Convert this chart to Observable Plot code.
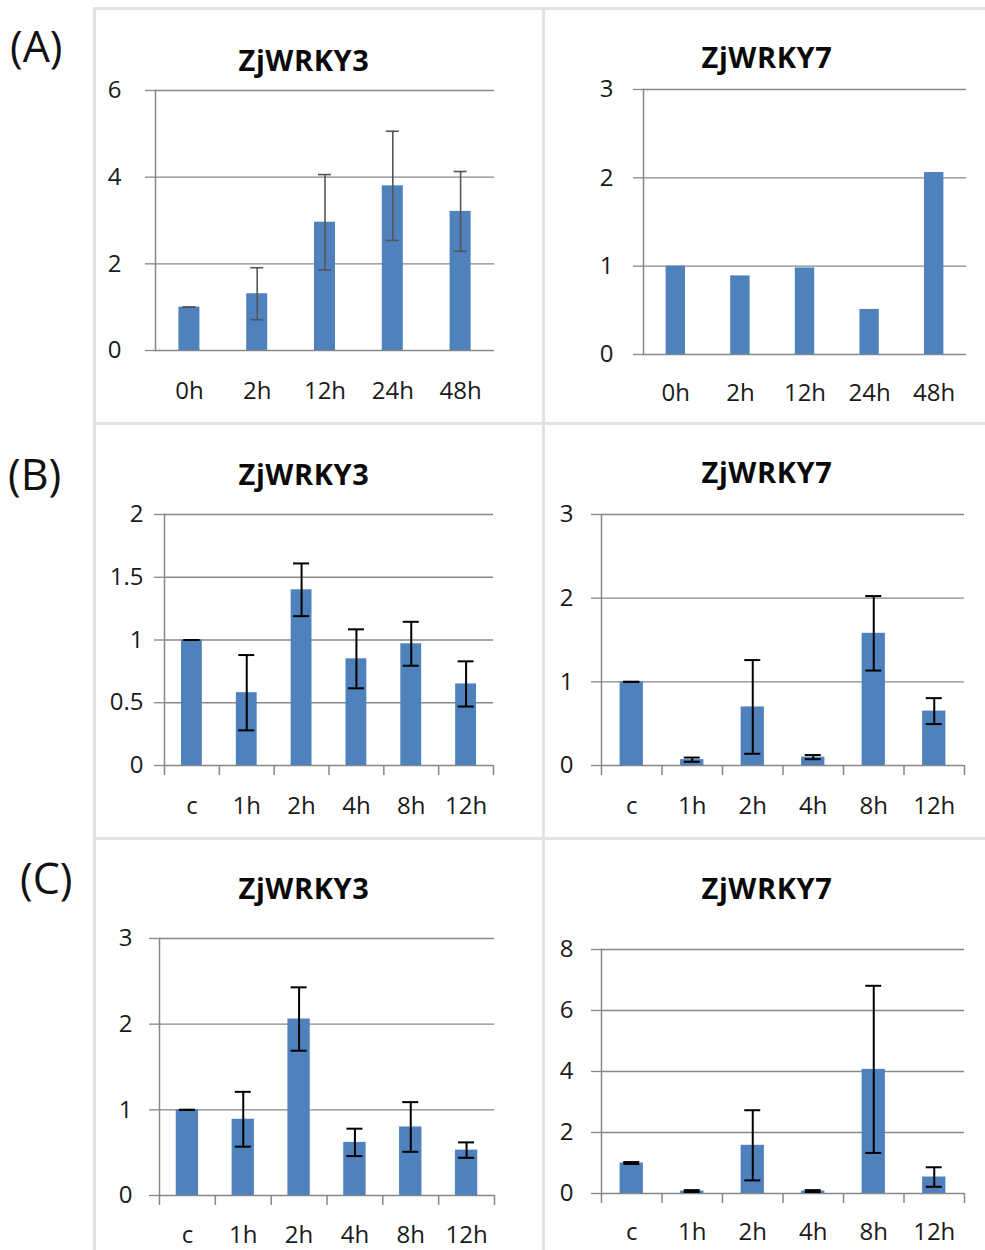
<!DOCTYPE html>
<html>
<head>
<meta charset="utf-8">
<script src="https://cdn.jsdelivr.net/npm/d3@7"></script>
<script src="https://cdn.jsdelivr.net/npm/@observablehq/plot@0.6"></script>
<style>
  html, body { margin: 0; padding: 0; background: #fff; }
  #fig { position: relative; width: 985px; height: 1250px; overflow: hidden; background: #fff; font-family: "Open Sans", sans-serif; }
  .line { position: absolute; background: #e2e2e2; }
  .plabel { position: absolute; font-family: "Open Sans", sans-serif; font-size: 43px; line-height: 50px; color: #111; }
  .title { position: absolute; width: 300px; text-align: center; font-family: "Open Sans", sans-serif; font-weight: 700; font-size: 29px; line-height: 36px; color: #0a0a0a; letter-spacing: 0.6px; }
  .panel { position: absolute; }
</style>
</head>
<body>
<div id="fig"></div>
<script>
// ---------- data ----------
const timesA = ["0h", "2h", "12h", "24h", "48h"];
const timesBC = ["c", "1h", "2h", "4h", "8h", "12h"];

const a3Mean = [1.0, 1.31, 2.96, 3.80, 3.21];
const a3Err  = [0.0, 0.60, 1.10, 1.26, 0.92];
const a7Mean = [1.0, 0.89, 0.98, 0.51, 2.06];

const b3Mean = [1.0, 0.58, 1.40, 0.85, 0.97, 0.65];
const b3Err  = [0.0, 0.30, 0.21, 0.235, 0.175, 0.18];
const b7Mean = [1.0, 0.07, 0.70, 0.10, 1.58, 0.65];
const b7Err  = [0.0, 0.025, 0.56, 0.025, 0.445, 0.155];

const c3Mean = [1.0, 0.89, 2.06, 0.62, 0.80, 0.53];
const c3Err  = [0.0, 0.32, 0.37, 0.16, 0.29, 0.09];
const c7Mean = [1.0, 0.08, 1.58, 0.08, 4.07, 0.54];
const c7Err  = [0.03, 0.03, 1.15, 0.03, 2.74, 0.32];

const ticksA3 = [0, 2, 4, 6];
const ticksA7 = [0, 1, 2, 3];
const ticksB3 = [0, 0.5, 1, 1.5, 2];
const ticksB7 = [0, 1, 2, 3];
const ticksC3 = [0, 1, 2, 3];
const ticksC7 = [0, 2, 4, 6, 8];

const panelLabels = ["(A)", "(B)", "(C)"];
const geneTitles = ["ZjWRKY3", "ZjWRKY7"];

// ---------- layout ----------
const fig = document.getElementById("fig");
const BAR = "#4F81BD";
const GRID = "#878787";
const TXT = "#1a1a1a";

function addLine(l, t, w, h) {
  const d = document.createElement("div");
  d.className = "line";
  Object.assign(d.style, {left: l + "px", top: t + "px", width: w + "px", height: h + "px"});
  fig.appendChild(d);
}
// panel frame lines
addLine(93, 7, 900, 3);
addLine(93, 7, 3, 1250);
addLine(542, 7, 3, 1250);
addLine(93, 422, 900, 3);
addLine(93, 837, 900, 3);

function addText(cls, txt, l, t) {
  const d = document.createElement("div");
  d.className = cls;
  d.textContent = txt;
  d.style.left = l + "px";
  d.style.top = t + "px";
  fig.appendChild(d);
}
addText("plabel", panelLabels[0], 10, 21);
addText("plabel", panelLabels[1], 8, 449);
addText("plabel", panelLabels[2], 20, 853);

function panel(cfg) {
  const n = cfg.cats.length;
  const rows = cfg.cats.map((k, i) => ({k, c: i + 0.5, m: cfg.mean[i], e: cfg.err ? cfg.err[i] : null}));
  const W = cfg.width, H = cfg.height;
  const marks = [
    Plot.gridY(cfg.ticks, {stroke: GRID, strokeOpacity: 1, strokeWidth: 1.3}),
    Plot.axisY(cfg.ticks, {tickSize: 10, tickPadding: cfg.yPad, stroke: GRID, strokeWidth: 1.3, fill: TXT,
      fontSize: 24, tickFormat: d => String(d), label: null}),
    Plot.frame({anchor: "left", stroke: GRID, strokeWidth: 1.5}),
    Plot.rectY(rows, {x1: d => d.c - cfg.barFrac / 2, x2: d => d.c + cfg.barFrac / 2, y: "m", fill: BAR})
  ];
  if (cfg.err) {
    marks.push(
      Plot.ruleX(rows, {x: "c", y1: d => d.m - d.e, y2: d => d.m + d.e, stroke: cfg.errColor, strokeWidth: cfg.errWidth}),
      Plot.ruleY(rows, {y: d => d.m + d.e, x1: "c", x2: "c", insetLeft: -cfg.cap, insetRight: -cfg.cap, stroke: cfg.errColor, strokeWidth: cfg.errWidth}),
      Plot.ruleY(rows, {y: d => d.m - d.e, x1: "c", x2: "c", insetLeft: -cfg.cap, insetRight: -cfg.cap, stroke: cfg.errColor, strokeWidth: cfg.errWidth})
    );
  }
  if (cfg.catTicks) {
    marks.push(Plot.axisX(d3.range(n + 1), {tickSize: 10, stroke: GRID, strokeWidth: 1.5, tickFormat: () => "", label: null}));
  }
  marks.push(Plot.axisX(rows.map(d => d.c), {tickSize: 0, tickPadding: cfg.xPad, fill: TXT, fontSize: 24,
    tickFormat: v => cfg.cats[Math.floor(v)], label: null}));

  const svg = Plot.plot({
    width: W, height: H,
    marginLeft: cfg.ml, marginRight: cfg.mr, marginTop: cfg.mt, marginBottom: cfg.mb,
    x: {domain: [0, n]},
    y: {domain: [0, cfg.ticks[cfg.ticks.length - 1]]},
    style: {fontFamily: "Open Sans, sans-serif", fontSize: "24px", background: "transparent", overflow: "visible"},
    marks
  });
  const wrap = document.createElement("div");
  wrap.className = "panel";
  wrap.style.left = cfg.left + "px";
  wrap.style.top = cfg.top + "px";
  wrap.appendChild(svg);
  fig.appendChild(wrap);
  addText("title", cfg.title, cfg.titleX - 150, cfg.titleY - 19);
}

// (A) left
panel({title: geneTitles[0], cats: timesA, mean: a3Mean, err: a3Err, ticks: ticksA3,
  left: 100, top: 75, width: 440, height: 345, ml: 55, mr: 46, mt: 15, mb: 70,
  yPad: 24, xPad: 31, barFrac: 0.31, cap: 6.5, errColor: "#555", errWidth: 1.6, catTicks: false,
  titleX: 304, titleY: 61});
// (A) right
panel({title: geneTitles[1], cats: timesA, mean: a7Mean, err: null, ticks: ticksA7,
  left: 548, top: 75, width: 437, height: 345, ml: 95, mr: 19, mt: 14, mb: 66,
  yPad: 20, xPad: 29, barFrac: 0.30, catTicks: false,
  titleX: 767, titleY: 58});
// (B) left
panel({title: geneTitles[0], cats: timesBC, mean: b3Mean, err: b3Err, ticks: ticksB3,
  left: 100, top: 490, width: 440, height: 345, ml: 64, mr: 47, mt: 24, mb: 70,
  yPad: 11, xPad: 31, barFrac: 0.38, cap: 8, errColor: "#000", errWidth: 2, catTicks: true,
  titleX: 304, titleY: 475});
// (B) right
panel({title: geneTitles[1], cats: timesBC, mean: b7Mean, err: b7Err, ticks: ticksB7,
  left: 548, top: 490, width: 437, height: 345, ml: 53, mr: 21, mt: 24, mb: 70,
  yPad: 18, xPad: 31, barFrac: 0.385, cap: 8, errColor: "#000", errWidth: 2, catTicks: true,
  titleX: 767, titleY: 473});
// (C) left
panel({title: geneTitles[0], cats: timesBC, mean: c3Mean, err: c3Err, ticks: ticksC3,
  left: 100, top: 905, width: 440, height: 345, ml: 59, mr: 46, mt: 33, mb: 55,
  yPad: 17, xPad: 30, barFrac: 0.40, cap: 8, errColor: "#000", errWidth: 2, catTicks: true,
  titleX: 304, titleY: 889});
// (C) right
panel({title: geneTitles[1], cats: timesBC, mean: c7Mean, err: c7Err, ticks: ticksC7,
  left: 548, top: 905, width: 437, height: 345, ml: 53, mr: 21, mt: 44, mb: 57,
  yPad: 18, xPad: 29, barFrac: 0.385, cap: 8, errColor: "#000", errWidth: 2, catTicks: true,
  titleX: 767, titleY: 889});
</script>
</body>
</html>
